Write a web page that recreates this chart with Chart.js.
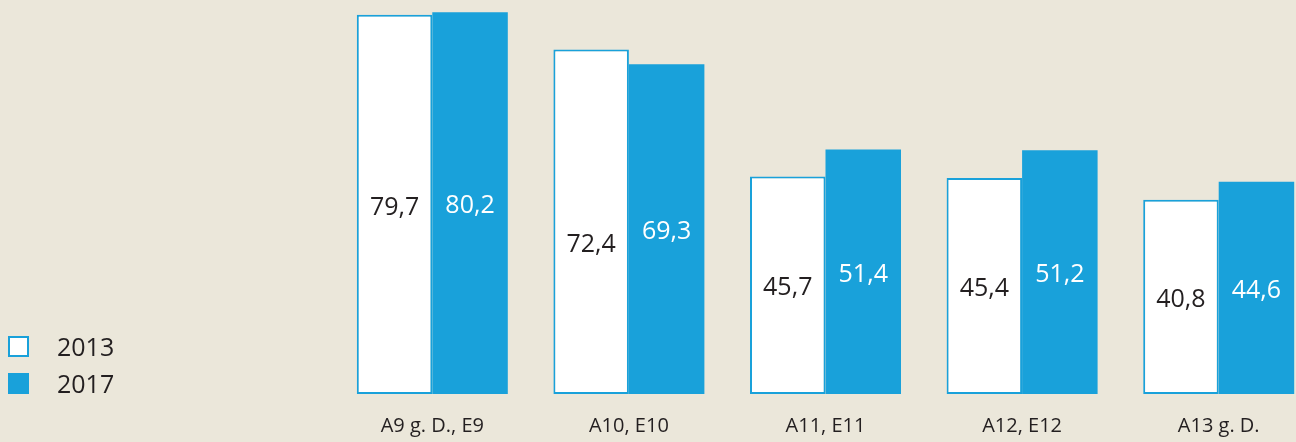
<!DOCTYPE html>
<html>
<head>
<meta charset="utf-8">
<script src="https://cdn.jsdelivr.net/npm/chart.js@4/dist/chart.umd.min.js"></script>
<style>
  html, body { margin: 0; padding: 0; background: #ebe7da; overflow: hidden; }
  #wrap { width: 1330px; height: 442px; }
</style>
</head>
<body>
<div id="wrap"><canvas id="c" width="1330" height="442"></canvas></div>
<script>
const categories = ["A9 g. D., E9", "A10, E10", "A11, E11", "A12, E12", "A13 g. D."];
const series2013 = [79.7, 72.4, 45.7, 45.4, 40.8];
const series2017 = [80.2, 69.3, 51.4, 51.2, 44.6];
const seriesNames = ["2013", "2017"];

const BLUE = "#19a1da";
const TEXT = "#231f20";
const FONT = "'Open Sans', 'DejaVu Sans', sans-serif";

const fmt = v => v.toFixed(1).replace(".", ",");

const valueLabels = {
  id: "valueLabels",
  afterDatasetsDraw(chart, args, opts) {
    const ctx = chart.ctx;
    ctx.save();
    ctx.font = "25px " + FONT;
    ctx.textAlign = "center";
    ctx.textBaseline = "middle";
    chart.data.datasets.forEach((ds, di) => {
      const meta = chart.getDatasetMeta(di);
      const nudges = (opts.nudge && opts.nudge[di]) || [];
      meta.data.forEach((el, i) => {
        ctx.fillStyle = di === 0 ? TEXT : "#ffffff";
        const y = (el.y + el.base) / 2 + 3 + (nudges[i] || 0);
        ctx.fillText(fmt(ds.data[i]), el.x, y);
      });
    });
    ctx.restore();
  }
};

const sideLegend = {
  id: "sideLegend",
  afterDraw(chart) {
    const ctx = chart.ctx;
    ctx.save();
    ctx.font = "25px " + FONT;
    ctx.textBaseline = "middle";
    ctx.textAlign = "left";
    chart.data.datasets.forEach((ds, di) => {
      const top = 336 + di * 37;
      if (di === 0) {
        ctx.fillStyle = "#ffffff";
        ctx.fillRect(8, top, 21, 21);
        ctx.strokeStyle = BLUE;
        ctx.lineWidth = 2;
        ctx.strokeRect(9, top + 1, 19, 19);
      } else {
        ctx.fillStyle = BLUE;
        ctx.fillRect(8, top, 21, 21);
      }
      ctx.fillStyle = TEXT;
      ctx.fillText(ds.label, 57, top + 13);
    });
    ctx.restore();
  }
};

new Chart(document.getElementById("c"), {
  type: "bar",
  data: {
    labels: categories,
    datasets: [
      {
        label: seriesNames[0],
        data: series2013,
        backgroundColor: "#ffffff",
        borderColor: BLUE,
        borderWidth: 2,
        borderSkipped: false
      },
      {
        label: seriesNames[1],
        data: series2017,
        backgroundColor: BLUE,
        borderWidth: 0
      }
    ]
  },
  options: {
    responsive: false,
    animation: false,
    devicePixelRatio: 1,
    layout: { padding: { left: 334, right: 13, top: 0, bottom: 0 } },
    datasets: {
      bar: { categoryPercentage: 0.768, barPercentage: 1.0 }
    },
    scales: {
      x: {
        grid: { display: false, drawTicks: false },
        border: { display: false },
        ticks: {
          color: TEXT,
          font: { family: FONT, size: 20 },
          padding: 20,
          maxRotation: 0,
          autoSkip: false
        },
        afterFit(scale) { scale.height = 48; }
      },
      y: {
        display: false,
        min: 0,
        max: 82.8
      }
    },
    plugins: {
      legend: { display: false },
      tooltip: { enabled: false },
      valueLabels: { nudge: [[0, 20, 0, 0, 0], [0, 0, 0, 0, 0]] }
    }
  },
  plugins: [valueLabels, sideLegend]
});
</script>
</body>
</html>
